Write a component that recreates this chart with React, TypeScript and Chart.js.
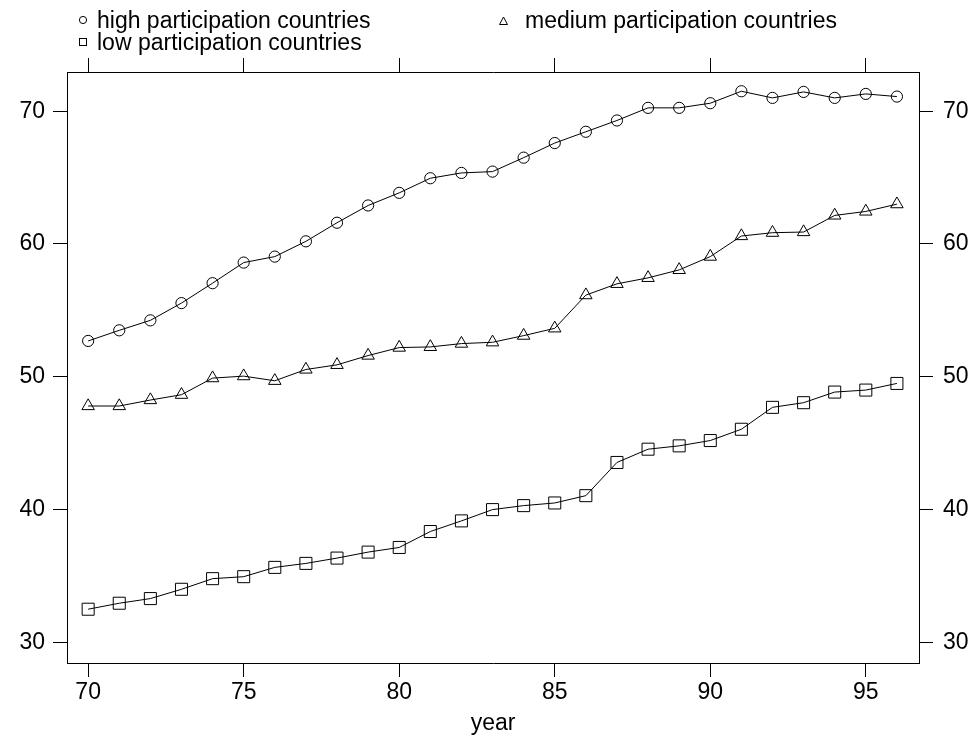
import React, { useEffect, useRef } from "react";
import { Chart, registerables } from "chart.js";

Chart.register(...registerables);

const years = [70, 71, 72, 73, 74, 75, 76, 77, 78, 79, 80, 81, 82, 83, 84, 85, 86, 87, 88, 89, 90, 91, 92, 93, 94, 95, 96];

const high = [52.7, 53.5, 54.25, 55.55, 57.05, 58.6, 59.05, 60.2, 61.6, 62.9, 63.85, 64.95, 65.35, 65.45, 66.5, 67.6, 68.45, 69.3, 70.25, 70.25, 70.6, 71.5, 71.0, 71.45, 71.0, 71.3, 71.1];

const medium = [47.8, 47.8, 48.25, 48.65, 49.9, 50.05, 49.7, 50.55, 50.9, 51.6, 52.2, 52.25, 52.5, 52.6, 53.1, 53.65, 56.15, 57.0, 57.45, 58.05, 59.05, 60.6, 60.85, 60.9, 62.15, 62.45, 63.0];

const low = [32.5, 32.95, 33.3, 34.0, 34.8, 34.95, 35.65, 35.95, 36.35, 36.8, 37.15, 38.35, 39.15, 40.0, 40.3, 40.5, 41.05, 43.55, 44.55, 44.8, 45.2, 46.05, 47.7, 48.05, 48.85, 49.0, 49.5];

const xTicks = [70, 75, 80, 85, 90, 95];
const yTicks = [30, 40, 50, 60, 70];

const seriesLabels = [
  "high participation countries",
  "medium participation countries",
  "low participation countries",
];

const X_MIN = 69.32;
const X_MAX = 96.71;
const Y_MIN = 28.45;
const Y_MAX = 72.95;

const FONT_FAMILY = "'Liberation Sans', Arial, Helvetica, sans-serif";
const FONT_SIZE = 23;

const legendPlugin = {
  id: "cornerLegend",
  afterDraw(chart: any) {
    const ctx = chart.ctx as CanvasRenderingContext2D;
    ctx.save();
    ctx.fillStyle = "#000";
    ctx.strokeStyle = "#000";
    ctx.lineWidth = 1;
    ctx.font = `${FONT_SIZE}px ${FONT_FAMILY}`;
    ctx.textBaseline = "alphabetic";
    ctx.textAlign = "left";
    // high (circle)
    ctx.beginPath();
    ctx.arc(83, 20, 3.6, 0, Math.PI * 2);
    ctx.stroke();
    ctx.fillText(seriesLabels[0], 97, 28);
    // medium (triangle)
    ctx.beginPath();
    ctx.moveTo(503.5, 17);
    ctx.lineTo(507.5, 24.5);
    ctx.lineTo(499.5, 24.5);
    ctx.closePath();
    ctx.stroke();
    ctx.fillText(seriesLabels[1], 525, 28);
    // low (square)
    ctx.strokeRect(79.5, 38.5, 7, 7);
    ctx.fillText(seriesLabels[2], 97, 50);
    ctx.restore();
  },
};

export default function App() {
  const ref = useRef<HTMLCanvasElement>(null);

  useEffect(() => {
    const canvas = ref.current;
    if (!canvas) return;
    const font = { family: FONT_FAMILY, size: FONT_SIZE };
    const gridCommon = {
      drawOnChartArea: false,
      drawTicks: true,
      tickLength: 14,
      color: "#000",
      lineWidth: 1,
    };
    const borderCommon = { display: true, color: "#000", width: 1 };
    const setXTicks = (s: any) => {
      s.ticks = xTicks.map((v) => ({ value: v }));
    };
    const setYTicks = (s: any) => {
      s.ticks = yTicks.map((v) => ({ value: v }));
    };
    const mk = (label: string, data: number[], style: string, radius: number) => ({
      label,
      data: years.map((yr, i) => ({ x: yr, y: data[i] })),
      borderColor: "#000",
      borderWidth: 1,
      pointStyle: style,
      pointRadius: radius,
      pointBorderColor: "#000",
      pointBackgroundColor: "rgba(0,0,0,0)",
      pointBorderWidth: 1,
      fill: false,
      tension: 0,
      xAxisID: "x",
      yAxisID: "y",
    });

    const chart = new Chart(canvas, {
      type: "line",
      data: {
        datasets: [
          mk(seriesLabels[0], high, "circle", 5.6),
          mk(seriesLabels[1], medium, "triangle", 7.2),
          mk(seriesLabels[2], low, "rect", 8.5),
        ],
      },
      options: {
        responsive: false,
        animation: false,
        devicePixelRatio: 1,
        layout: { padding: 0 },
        plugins: {
          legend: { display: false },
          tooltip: { enabled: false },
        },
        scales: {
          x: {
            type: "linear",
            position: "bottom",
            min: X_MIN,
            max: X_MAX,
            afterBuildTicks: setXTicks,
            afterFit: (s: any) => {
              s.height = 76;
            },
            grid: gridCommon,
            border: borderCommon,
            ticks: { color: "#000", font, padding: 2, maxRotation: 0, autoSkip: false },
            title: {
              display: true,
              text: "year",
              color: "#000",
              font,
              padding: { top: 0, bottom: 2 },
            },
          },
          x2: {
            type: "linear",
            position: "top",
            min: X_MIN,
            max: X_MAX,
            afterBuildTicks: setXTicks,
            afterFit: (s: any) => {
              s.height = 72;
            },
            grid: gridCommon,
            border: borderCommon,
            ticks: { color: "rgba(0,0,0,0)", font, padding: 2, maxRotation: 0, autoSkip: false },
          },
          y: {
            type: "linear",
            position: "left",
            min: Y_MIN,
            max: Y_MAX,
            afterBuildTicks: setYTicks,
            afterFit: (s: any) => {
              s.width = 67;
            },
            grid: gridCommon,
            border: borderCommon,
            ticks: { color: "#000", font, padding: 8 },
          },
          y2: {
            type: "linear",
            position: "right",
            min: Y_MIN,
            max: Y_MAX,
            afterBuildTicks: setYTicks,
            afterFit: (s: any) => {
              s.width = 61;
            },
            grid: gridCommon,
            border: borderCommon,
            ticks: { color: "#000", font, padding: 10 },
          },
        },
      },
      plugins: [legendPlugin],
    });
    return () => chart.destroy();
  }, []);

  return (
    <div
      style={{
        position: "absolute",
        left: 0,
        top: 0,
        width: 980,
        height: 739,
        background: "#fff",
      }}
    >
      <canvas ref={ref} width={980} height={739} style={{ display: "block" }} />
    </div>
  );
}
